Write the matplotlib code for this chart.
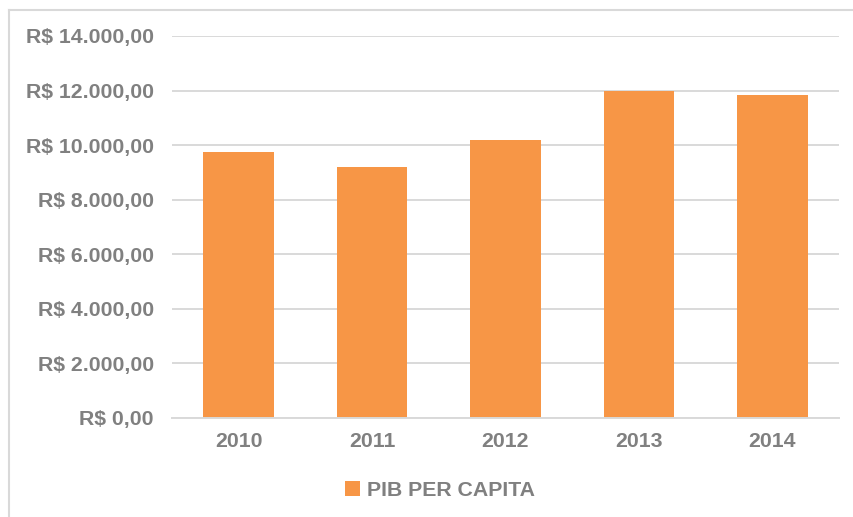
import matplotlib
matplotlib.use("Agg")
import matplotlib.pyplot as plt
from matplotlib.patches import Patch
from matplotlib.lines import Line2D
from matplotlib.ticker import FuncFormatter

years = ["2010", "2011", "2012", "2013", "2014"]
pib_per_capita = [9740, 9190, 10190, 11990, 11830]
y_ticks = [0, 2000, 4000, 6000, 8000, 10000, 12000, 14000]
series_name = "PIB PER CAPITA"

bar_color = "#F79646"
text_color = "#808080"
grid_color = "#D9D9D9"

plt.rcParams["font.family"] = ["Liberation Sans", "DejaVu Sans"]

fig = plt.figure(figsize=(8.54, 5.17), dpi=100)
ax = fig.add_axes([172 / 854, 1 - 418 / 517, (839 - 172) / 854, (418 - 36) / 517])

x = range(len(years))
ax.bar(x, pib_per_capita, width=0.53, color=bar_color, zorder=3)

ax.set_xlim(-0.5, len(years) - 0.5)
ax.set_ylim(0, 14000)
ax.set_yticks(y_ticks)


def brl(v, _pos):
    s = f"{v:,.2f}".replace(",", "X").replace(".", ",").replace("X", ".")
    return f"R$ {s}"


ax.yaxis.set_major_formatter(FuncFormatter(brl))
ax.set_xticks(list(x))
ax.set_xticklabels(years)

ax.grid(axis="y", color=grid_color, linewidth=1.4, zorder=0)
for side in ["top", "right", "left"]:
    ax.spines[side].set_visible(False)
ax.spines["bottom"].set_color(grid_color)
ax.spines["bottom"].set_linewidth(1.4)
ax.spines["bottom"].set_zorder(4)

font_size = 15.3
ax.tick_params(axis="both", length=0, colors=text_color, labelsize=font_size)
ax.tick_params(axis="y", pad=13)
ax.tick_params(axis="x", pad=10)
for lbl in ax.get_xticklabels() + ax.get_yticklabels():
    lbl.set_fontweight("bold")

handle = Patch(facecolor=bar_color, edgecolor="none")
fig.legend([handle], [series_name], loc="center", bbox_to_anchor=(440 / 854, 1 - 490 / 517),
           frameon=False, handlelength=0.7, handleheight=0.7, handletextpad=0.3,
           prop={"size": font_size, "weight": "bold"}, labelcolor=text_color)

# chart area border (left and top edges)
fig.add_artist(Line2D([9.5 / 854, 9.5 / 854], [0, 1 - 10 / 517], transform=fig.transFigure,
                      color=grid_color, linewidth=1.5))
fig.add_artist(Line2D([9.5 / 854, 1], [1 - 10 / 517, 1 - 10 / 517], transform=fig.transFigure,
                      color=grid_color, linewidth=1.5))

fig.savefig("out.png", dpi=100)
